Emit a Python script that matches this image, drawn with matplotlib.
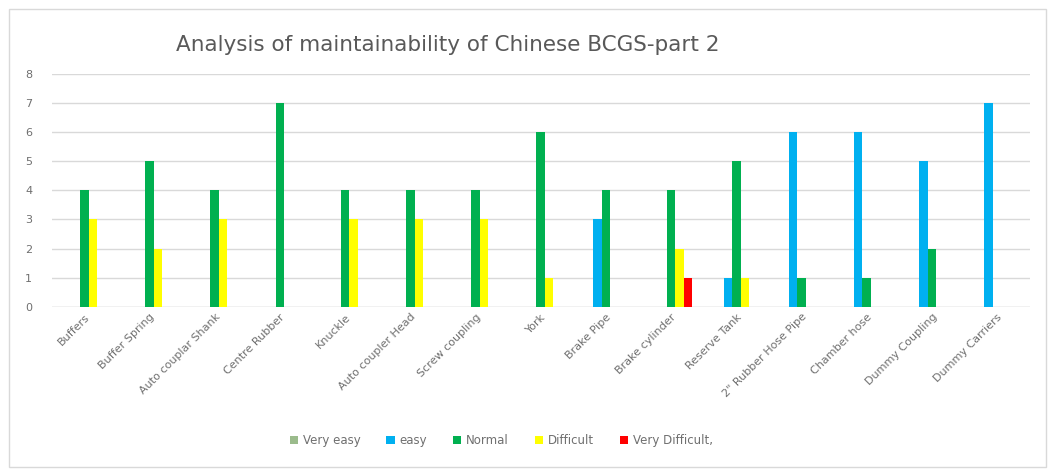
import numpy as np
import matplotlib
matplotlib.use("Agg")
import matplotlib.pyplot as plt
from matplotlib.patches import Rectangle

categories = ["Buffers", "Buffer Spring", "Auto couplar Shank", "Centre Rubber",
              "Knuckle", "Auto coupler Head", "Screw coupling", "York",
              "Brake Pipe", "Brake cylinder", "Reserve Tank",
              "2\" Rubber Hose Pipe", "Chamber hose", "Dummy Coupling",
              "Dummy Carriers"]

very_easy = [0, 0, 0, 0, 0, 0, 0, 0, 0, 0, 0, 0, 0, 0, 0]
easy = [0, 0, 0, 0, 0, 0, 0, 0, 3, 0, 1, 6, 6, 5, 7]
normal = [4, 5, 4, 7, 4, 4, 4, 6, 4, 4, 5, 1, 1, 2, 0]
difficult = [3, 2, 3, 0, 3, 3, 3, 1, 0, 2, 1, 0, 0, 0, 0]
very_difficult = [0, 0, 0, 0, 0, 0, 0, 0, 0, 1, 0, 0, 0, 0, 0]

series = [
    ("Very easy", very_easy, "#9bbb8c"),
    ("easy", easy, "#00b0f0"),
    ("Normal", normal, "#00b050"),
    ("Difficult", difficult, "#ffff00"),
    ("Very Difficult,", very_difficult, "#ff0000"),
]

fig = plt.figure(figsize=(10.55, 4.7), dpi=100)
# light grey chart-area border
fig.patches.append(Rectangle((0.009, 0.006), 0.982, 0.975, transform=fig.transFigure,
                             fill=False, edgecolor="#d9d9d9", linewidth=1))
ax = fig.add_axes([0.049, 0.347, 0.927, 0.496])

x = np.arange(len(categories))
w = 0.13
for i, (name, vals, col) in enumerate(series):
    ax.bar(x + (i - 2) * w, vals, width=w, color=col, label=name, zorder=3)

ax.set_xlim(-0.5, len(categories) - 0.5)
ax.set_ylim(0, 8)
ax.set_yticks(range(9))
ax.yaxis.grid(True, color="#d9d9d9", linewidth=1, zorder=0)
for s in ax.spines.values():
    s.set_visible(False)
ax.axhline(0, color="#d9d9d9", linewidth=1, zorder=2)
ax.tick_params(axis="both", length=0, colors="#6f6f6f", labelsize=8)
ax.tick_params(axis="y", pad=14)
ax.set_xticks(x)
ax.set_xticklabels(categories, rotation=45, ha="right", rotation_mode="anchor",
                   color="#6f6f6f", fontsize=8)

fig.text(0.424, 0.905, "Analysis of maintainability of Chinese BCGS-part 2",
         ha="center", va="center", fontsize=15.5, color="#595959")

fig.legend(loc="center", bbox_to_anchor=(0.475, 0.062), ncol=5, frameon=False,
           fontsize=8.5, handlelength=0.7, handleheight=0.7, handletextpad=0.4,
           columnspacing=2.2, labelcolor="#6f6f6f")

fig.savefig("out.png", dpi=100)
